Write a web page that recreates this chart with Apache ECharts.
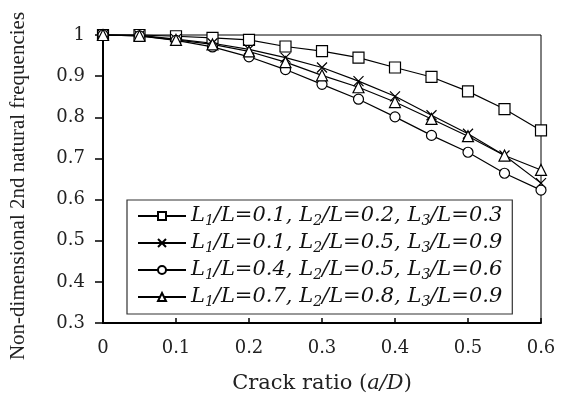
<!DOCTYPE html>
<html>
<head>
<meta charset="utf-8">
<script src="https://cdn.jsdelivr.net/npm/echarts@6/dist/echarts.min.js"></script>
<style>
  html, body { margin: 0; padding: 0; background: #fff; }
  #chart { width: 564px; height: 399px; }
</style>
</head>
<body>
<div id="chart"></div>
<script>
// crack ratio a/D
const crackRatio = [0, 0.05, 0.1, 0.15, 0.2, 0.25, 0.3, 0.35, 0.4, 0.45, 0.5, 0.55, 0.6]

const seriesNames = [
  'L1/L=0.1, L2/L=0.2, L3/L=0.3',
  'L1/L=0.1, L2/L=0.5, L3/L=0.9',
  'L1/L=0.4, L2/L=0.5, L3/L=0.6',
  'L1/L=0.7, L2/L=0.8, L3/L=0.9',
]

const freqSquare   = [1, 1, 0.997, 0.993, 0.988, 0.972, 0.961, 0.945, 0.921, 0.898, 0.863, 0.820, 0.768]
const freqCross    = [1, 0.999, 0.990, 0.980, 0.965, 0.945, 0.921, 0.888, 0.851, 0.805, 0.760, 0.707, 0.640]
const freqCircle   = [1, 0.998, 0.987, 0.971, 0.947, 0.916, 0.880, 0.844, 0.801, 0.756, 0.715, 0.664, 0.623]
const freqTriangle = [1, 0.998, 0.988, 0.977, 0.960, 0.934, 0.902, 0.873, 0.837, 0.796, 0.754, 0.707, 0.672]

const serif = '"Liberation Serif", "Times New Roman", serif'
const wideSerif = '"DejaVu Serif", serif'
const crossPath = 'path://M0,0L10,10M10,0L0,10'

const pair = (ys) => crackRatio.map((x, i) => [x, ys[i]])

const mkSeries = (name, ys, symbol, size) => ({
  name,
  type: 'line',
  data: pair(ys),
  symbol,
  symbolSize: size,
  showAllSymbol: true,
  clip: false,
  lineStyle: { color: '#000', width: 1.2 },
  itemStyle: { color: '#fff', borderColor: '#000', borderWidth: 1.2 },
  emphasis: { disabled: true },
})

// legend names with subscripts: L1 -> L{sub 1}
const legendFmt = (name) =>
  name
    .split(/(L[123])/)
    .filter((p) => p !== '')
    .map((p) => (/^L[123]$/.test(p) ? `{m|L}{s|${p[1]}}` : `{m|${p}}`))
    .join('')

const chart = echarts.init(document.getElementById('chart'))
chart.setOption({
  animation: false,
  backgroundColor: '#fff',
  grid: {
    left: 99, right: 23, top: 35, bottom: 72,
    show: true, borderColor: '#000', borderWidth: 1,
  },
  legend: {
    orient: 'vertical',
    left: 127,
    top: 200,
    padding: [5, 10, 5, 10],
    itemGap: 4,
    itemWidth: 48,
    itemHeight: 10,
    borderColor: '#333',
    borderWidth: 1.2,
    data: seriesNames,
    formatter: legendFmt,
    textStyle: {
      rich: {
        m: { fontFamily: wideSerif, fontStyle: 'italic', fontSize: 21, lineHeight: 22, color: '#111', verticalAlign: 'top' },
        s: { fontFamily: wideSerif, fontStyle: 'italic', fontSize: 14, lineHeight: 14, color: '#111', verticalAlign: 'top', padding: [9, 0, 0, 0] },
      },
    },
  },
  xAxis: {
    type: 'value',
    min: 0,
    max: 0.6,
    interval: 0.1,
    name: '{n|Crack ratio (}{i|a/D}{n|)}',
    nameLocation: 'middle',
    nameGap: 50,
    nameTextStyle: {
      rich: {
        n: { fontFamily: wideSerif, fontSize: 21, color: '#222' },
        i: { fontFamily: wideSerif, fontSize: 21, fontStyle: 'italic', color: '#222' },
      },
    },
    axisLine: { lineStyle: { color: '#000', width: 2 } },
    axisTick: { inside: true, length: 5, lineStyle: { color: '#000', width: 1.5 } },
    splitLine: { show: false },
    axisLabel: {
      margin: 16,
      fontFamily: wideSerif, fontSize: 18, color: '#222',
      formatter: (v) => String(+v.toFixed(1)),
    },
  },
  yAxis: {
    type: 'value',
    min: 0.3,
    max: 1,
    interval: 0.1,
    name: 'Non-dimensional 2nd natural frequencies',
    nameLocation: 'middle',
    nameRotate: 90,
    nameGap: 74,
    // right padding nudges the rotated title a little down
    nameTextStyle: { fontFamily: serif, fontSize: 21, color: '#222', padding: [0, 14, 0, 0] },
    axisLine: { show: true, lineStyle: { color: '#000', width: 2 } },
    axisTick: { show: true, inside: false, length: 8, lineStyle: { color: '#000', width: 1.5 } },
    splitLine: { show: false },
    axisLabel: {
      margin: 18,
      fontFamily: wideSerif, fontSize: 18, color: '#222',
      formatter: (v) => String(+v.toFixed(1)),
    },
  },
  series: [
    mkSeries(seriesNames[0], freqSquare, 'rect', 11),
    mkSeries(seriesNames[1], freqCross, crossPath, 10),
    mkSeries(seriesNames[2], freqCircle, 'circle', 10),
    mkSeries(seriesNames[3], freqTriangle, 'triangle', 11),
  ],
})
</script>
</body>
</html>
